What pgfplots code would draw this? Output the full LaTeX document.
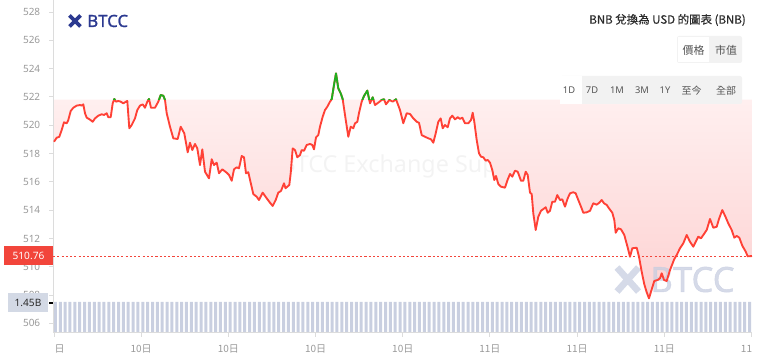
\documentclass[border=0pt]{standalone}
\usepackage{pgfplots}
\pgfplotsset{compat=1.18}
\usepackage{pgfplotstable}
\usepackage{fontspec}
\setmainfont{Noto Sans}
\newfontfamily\cjk{Noto Sans CJK TC}
\newfontfamily\cjkheavy{Noto Sans CJK TC}[FakeBold=0.6]
\newfontfamily\heavy{Noto Sans}[FakeBold=1.2]
\definecolor{tickgray}{HTML}{999999}
\definecolor{axisgray}{HTML}{DCDCDC}
\definecolor{linered}{HTML}{FF4136}
\definecolor{linegreen}{HTML}{1FAF1F}
\definecolor{navy}{HTML}{2B3990}
\definecolor{boxred}{HTML}{F2453B}
\definecolor{volbox}{HTML}{D3D9E5}
\definecolor{barcol}{HTML}{C9CFE0}
\definecolor{btngray}{HTML}{F2F2F2}
\definecolor{btntext}{HTML}{555555}
\definecolor{titlecol}{HTML}{2B2B2B}
\definecolor{wmgray}{HTML}{F3F3F3}
\definecolor{wmblue}{HTML}{C7CDE0}
\definecolor{filltop}{HTML}{FFF3F3}
\definecolor{fillbot}{HTML}{FDD2D2}

\pgfplotstableread{
x y
54 518.84
56.7 519.12
59.3 519.19
61.7 519.67
64 520.21
66.7 520.14
68.3 520.37
70.7 521.01
73.3 521.24
76.7 521.39
80 521.43
81.7 521.39
83.3 521.48
85 520.85
86.7 520.54
90 520.40
92.7 520.25
95 520.49
98.3 520.68
101.7 520.78
104 520.73
106.7 520.85
108.3 520.57
110.7 520.57
112.7 521.55
114.3 521.86
116 521.67
118.3 521.72
120.7 521.67
123.3 521.55
126 521.67
127.3 521.72
129.3 519.79
131.7 520.02
135 520.49
137.3 521.08
140 521.39
142.7 521.48
145 521.24
147.3 521.67
149 521.86
151 521.24
155 521.24
158.3 521.67
160.7 522.14
163.3 522.09
165 521.79
166.7 520.85
170 519.90
173.3 519.08
177.7 519.03
180.7 519.90
184.3 519.43
187.7 518.09
190 518.77
192.3 518.25
195 518.68
197.3 518.37
200 517.19
202.3 518.30
205 516.72
209 516.25
211.7 517.60
214 517.19
216.7 517.36
219 516.61
222.3 516.89
226.7 516.65
229 516.49
231.7 516.08
234 516.89
236.7 517.03
239 516.96
241.7 517.83
244 517.74
246 516.61
248.3 516.68
253.3 515.14
256.7 514.95
259 514.72
262.7 515.24
266.7 514.84
270 514.53
272.7 514.30
275.7 514.72
278.3 515.24
281 515.36
284 515.90
285.5 515.55
289.3 515.78
290.7 516.61
292.7 518.37
295 518.25
297.3 517.74
300 517.90
301.7 518.25
304 518.20
306.7 518.61
310 518.68
312.3 518.61
314 518.30
316 519.15
318.3 519.31
320 519.90
322.7 520.61
325 521.08
327.3 521.31
330 521.67
331.7 521.84
334 522.85
336 523.67
338.3 522.61
340.7 522.26
342.7 521.84
345 520.73
348.3 519.19
350.7 519.90
353.3 519.79
355 520.14
357.3 520.25
359.3 520.96
361.7 521.67
364 522.07
367.3 522.45
370 521.55
372.7 521.98
375 521.43
378.3 521.60
381.7 521.79
384 521.84
386 521.48
389.3 521.79
392.7 521.67
396 521.84
400 521.08
403.3 520.14
406.7 520.85
410 520.80
413.3 520.49
416.7 520.25
419 520.18
421.7 519.31
425 519.19
428.3 519.08
431 519.01
433.3 518.77
435.7 519.43
438.3 520.25
440.7 520.49
442.7 519.79
445 520.02
447.7 519.86
450 520.49
452.3 520.68
455 520.42
457.7 520.57
460 520.45
462.3 520.54
465 520.14
468.3 520.14
471 520.37
472.7 520.89
474.3 520.25
476.7 518.96
479 518.02
481 517.78
483.3 517.74
485.7 517.50
487.7 517.55
490 517.36
492.3 516.84
494.3 516.13
496 516.42
498.3 515.85
501 515.66
505 515.59
507.5 516.13
510 516.56
512.3 516.37
515 516.79
517.7 516.72
521 516.08
523.3 516.08
525.7 516.72
527.7 516.49
530 515.24
531.7 515.14
533.3 513.78
535.7 512.60
538.3 513.54
541 513.96
544.3 514.13
545.7 514.21
547.7 513.82
550 513.96
552.3 514.60
555 514.60
557.3 515.07
560 514.72
562.3 514.77
565 514.25
567.7 514.84
570 515.19
573.3 515.27
575.7 515.19
578.3 514.72
581 514.25
583.3 513.82
586.7 513.85
590 513.96
593.3 514.49
596.7 514.39
599.3 514.53
601.7 514.72
604 514.49
606.7 514.37
609 514.13
612.3 513.82
614.3 513.31
615.7 512.41
618.3 512.72
621 512.65
624.3 512.25
627.7 511.36
630 510.71
632.3 511.31
636.7 511.35
639 510.71
641.7 509.65
644.3 508.76
646.7 508.20
649 507.77
651 508.24
654.3 509.00
657.7 509.07
660 509.19
661.7 509.54
664 509.07
666.7 509.00
670 509.77
674.3 510.55
676.7 510.83
680 511.31
683.3 511.66
686.7 512.25
690 511.77
693.3 511.42
698.3 512.13
701 512.01
706.7 512.60
710 513.38
713.3 512.76
716.7 512.83
719 513.38
722.3 514.01
725 513.61
728.3 513.07
731.7 512.60
734.3 512.06
736.7 512.18
739.3 512.06
742.3 511.49
745.7 511.07
747.7 510.74
752 510.76
}\pricetable

\pgfplotstableread[row sep=\\]{
v\\
1.45\\1.45\\1.45\\1.45\\1.45\\1.45\\1.45\\1.45\\1.45\\1.45\\1.45\\1.45\\
1.45\\1.45\\1.45\\1.45\\1.45\\1.45\\1.45\\1.45\\1.45\\1.45\\1.45\\1.45\\
1.45\\1.45\\1.45\\1.45\\1.45\\1.45\\1.45\\1.45\\1.45\\1.45\\1.45\\1.45\\
1.45\\1.45\\1.45\\1.45\\1.45\\1.45\\1.45\\1.45\\1.45\\1.45\\1.45\\1.45\\
1.45\\1.45\\1.45\\1.45\\1.45\\1.45\\1.45\\1.45\\1.45\\1.45\\1.45\\1.45\\
1.45\\1.45\\1.45\\1.45\\1.45\\1.45\\1.45\\1.45\\1.45\\1.45\\1.45\\1.45\\
1.45\\1.45\\1.45\\1.45\\1.45\\1.45\\1.45\\1.45\\1.45\\1.45\\1.45\\1.45\\
1.45\\1.45\\1.45\\1.45\\1.45\\1.45\\1.45\\1.45\\1.45\\1.45\\1.45\\1.45\\
1.45\\1.45\\1.45\\1.45\\1.45\\1.45\\1.45\\1.45\\1.45\\1.45\\1.45\\1.45\\
1.45\\1.45\\1.45\\1.45\\1.45\\1.45\\1.45\\1.45\\1.45\\1.45\\1.45\\1.45\\
1.45\\1.45\\1.45\\1.45\\1.45\\1.45\\1.45\\1.45\\1.45\\1.45\\1.45\\1.45\\
1.45\\1.45\\1.45\\1.45\\1.45\\1.45\\1.45\\1.45\\1.45\\1.45\\1.45\\1.45\\
}\voltable

\begin{document}
\begin{tikzpicture}
\useasboundingbox (0,0) rectangle (573.75pt,270pt);
% faint watermark under everything
\begin{scope}[x=0.75pt,y=-0.75pt,shift={(0pt,270pt)}]
\node[anchor=west,text=wmgray,font=\fontsize{17.5}{17.5}\selectfont] at (276,166) {BTCC Exchange Support};
\end{scope}
% volume bars
\begin{axis}[at={(39.75pt,20.25pt)},anchor=south west,scale only axis,
  width=524.25pt,height=249.75pt,hide axis,
  xmin=-0.5,xmax=143.5,ymin=0,ymax=15.576]
\addplot[ybar,bar width=0.62,fill=barcol,draw=none] table[x expr=\coordindex,y=v]{\voltable};
\end{axis}
% price axis
\begin{axis}[at={(39.75pt,20.25pt)},anchor=south west,scale only axis,
  width=524.25pt,height=249.75pt,
  xmin=53,xmax=752,ymin=505.322,ymax=528.855,
  axis x line*=bottom,axis y line*=left,
  axis line style={-,draw=axisgray,line width=0.75pt},
  xtick={54,141.19,228.38,315.56,402.75,489.94,577.13,664.31,751.5},
  xticklabels={{\cjk\phantom{10}日},{\cjk 10日},{\cjk 10日},{\cjk 10日},{\cjk 10日},{\cjk 11日},{\cjk 11日},{\cjk 11日},{\cjk 11\phantom{日}}},
  ytick={506,508,...,528},
  tick align=outside,major tick length=3pt,
  every tick/.style={draw=axisgray,line width=0.75pt},
  tick label style={font=\fontsize{7.5}{9}\selectfont,text=tickgray},
  yticklabel style={inner sep=0pt,anchor=east,xshift=-6.4pt},
  xticklabel style={inner sep=0pt,anchor=north,yshift=-6pt},
  /pgf/number format/assume math mode=true,
]
% pink area between price and baseline
\begin{scope}
\clip (axis cs:53,505) rectangle (axis cs:752,521.82);
\addplot[draw=none,top color=filltop,bottom color=fillbot] table {\pricetable} -- (axis cs:752,521.82) -- (axis cs:54,521.82) -- cycle;
\end{scope}
% bottom-right watermark
\node[text=wmblue,opacity=0.75,font=\heavy\bfseries\fontsize{26}{26}\selectfont] at (axis cs:692.5,509.10) {BTCC};
\draw[wmblue,opacity=0.75,line width=5pt] (axis cs:617,509.95) -- (axis cs:638.5,508.25) (axis cs:638.5,509.95) -- (axis cs:617,508.25);
% current price line
\addplot[boxred,line width=0.75pt,dash pattern=on 1.6pt off 1.6pt] coordinates {(53,510.76) (752,510.76)};
% price line
\addplot[linered,line width=1.4pt,line join=round] table {\pricetable};
\begin{scope}
\clip (axis cs:53,521.82) rectangle (axis cs:752,530);
\addplot[linegreen,line width=1.4pt,line join=round] table {\pricetable};
\end{scope}
\end{axis}
% overlays in pixel coordinates
\begin{scope}[x=0.75pt,y=-0.75pt,shift={(0pt,270pt)}]
% last price label
\fill[boxred] (4,246.5) rectangle (53,265.5);
\node[text=white,font=\fontsize{7.6}{9}\selectfont] at (28.5,256) {510.76};
% volume label
\fill[volbox] (8,293.5) rectangle (48,312.5);
\node[text=titlecol,font=\fontsize{7.6}{9}\selectfont] at (28,303) {1.45B};
\draw[black,line width=0.8pt] (49,303) -- (53,303);
% logo
\draw[navy,line width=2.8pt] (69.5,15.5) -- (80.5,26.5) (80.5,15.5) -- (69.5,26.5);
\node[anchor=west,text=navy,font=\heavy\bfseries\fontsize{12.6}{14}\selectfont,inner sep=0pt] at (87,21) {BTCC};
% title
\node[anchor=east,text=titlecol,font=\cjkheavy\fontsize{8.6}{10}\selectfont,inner sep=0pt] at (746,20) {BNB 兌換為 USD 的圖表 (BNB)};
% buttons
\fill[btngray,rounded corners=1.5pt] (677,36) rectangle (742,63);
\fill[white] (678,37) rectangle (709,62);
\node[text=btntext,font=\cjk\fontsize{8.2}{10}\selectfont] at (693.5,50) {價格};
\node[text=btntext,font=\cjk\fontsize{8.2}{10}\selectfont] at (726,50) {市值};
\fill[btngray,rounded corners=1.5pt] (560,76) rectangle (742,104);
\fill[white] (560,76) rectangle (582,104);
\node[text=btntext,font=\fontsize{7}{9}\selectfont] at (569,90.5) {1D};
\node[text=btntext,font=\fontsize{7}{9}\selectfont] at (592,90.5) {7D};
\node[text=btntext,font=\fontsize{7}{9}\selectfont] at (617,90.5) {1M};
\node[text=btntext,font=\fontsize{7}{9}\selectfont] at (642,90.5) {3M};
\node[text=btntext,font=\fontsize{7}{9}\selectfont] at (665,90.5) {1Y};
\node[text=btntext,font=\cjk\fontsize{7.5}{9}\selectfont] at (691.5,90.5) {至今};
\node[text=btntext,font=\cjk\fontsize{7.5}{9}\selectfont] at (726,90.5) {全部};
\end{scope}
\end{tikzpicture}
\end{document}
